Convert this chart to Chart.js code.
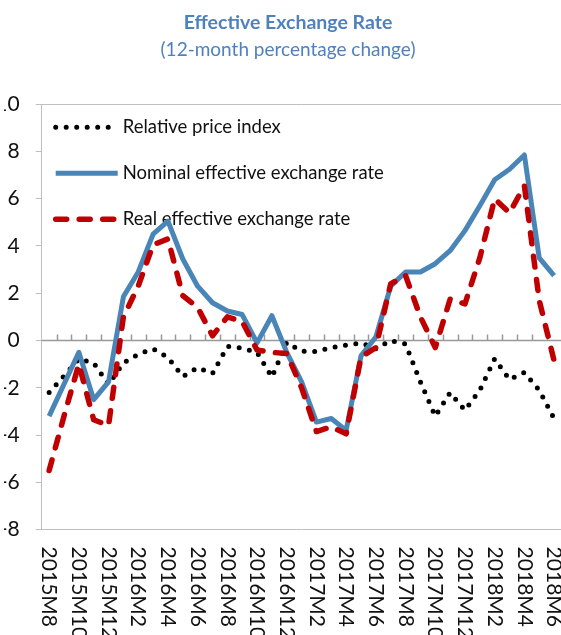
<!DOCTYPE html>
<html>
<head>
<meta charset="utf-8">
<script src="https://cdn.jsdelivr.net/npm/chart.js@4.4.1/dist/chart.umd.min.js"></script>
<style>
  html, body { margin: 0; padding: 0; background: #fff; overflow: hidden; }
  #wrap { position: absolute; left: -8px; top: 0; width: 580px; height: 635px; }
</style>
</head>
<body>
<div id="wrap"><canvas id="eerChart"></canvas></div>
<script>
// monthly categories
const months = ['2015M8', '2015M9', '2015M10', '2015M11', '2015M12',
    '2016M1', '2016M2', '2016M3', '2016M4', '2016M5', '2016M6', '2016M7', '2016M8', '2016M9', '2016M10', '2016M11', '2016M12',
    '2017M1', '2017M2', '2017M3', '2017M4', '2017M5', '2017M6', '2017M7', '2017M8', '2017M9', '2017M10', '2017M11', '2017M12',
    '2018M1', '2018M2', '2018M3', '2018M4', '2018M5', '2018M6'];

// labels shown under the axis
const tickMonths = ['2015M8', '2015M10', '2015M12', '2016M2', '2016M4', '2016M6', '2016M8', '2016M10', '2016M12',
    '2017M2', '2017M4', '2017M6', '2017M8', '2017M10', '2017M12', '2018M2', '2018M4', '2018M6'];

const relativePrice = [-2.2, -1.5, -0.78, -0.95, -1.85, -0.95, -0.58, -0.35, -0.72, -1.52, -1.15, -1.4, -0.25, -0.32, -0.5, -1.55, -0.08,
    -0.45, -0.47, -0.3, -0.2, -0.1, -0.35, 0.0, -0.15, -1.75, -3.2, -2.2, -2.95, -2.1, -0.77, -1.65, -1.35, -2.1, -3.3];

const nominalEER = [-3.2, -1.85, -0.5, -2.5, -1.75, 1.85, 2.9, 4.5, 5.05, 3.45, 2.3, 1.6, 1.25, 1.1, -0.1, 1.05, -0.5,
    -1.75, -3.45, -3.3, -3.8, -0.65, 0.15, 2.3, 2.9, 2.9, 3.25, 3.8, 4.65, 5.7, 6.8, 7.25, 7.85, 3.5, 2.75];

const realEER = [-5.5, -3.2, -1.0, -3.35, -3.6, 1.0, 2.3, 4.05, 4.3, 1.9, 1.4, 0.2, 1.0, 0.8, -0.4, -0.5, -0.55,
    -2.0, -3.85, -3.65, -3.95, -0.7, -0.3, 2.4, 2.75, 1.0, -0.3, 1.75, 1.55, 3.5, 6.0, 5.4, 6.55, 1.7, -0.85];

const yTicks = [-8, -6, -4, -2, 0, 2, 4, 6, 8, 10];

const textColor = '#111';
const axisGrey = '#bfbfbf';

// zero line with little tick marks between the months
const zeroAxis = {
    id: 'zeroAxis',
    beforeDatasetsDraw(chart) {
        const { ctx, chartArea, scales: { x, y } } = chart;
        const y0 = y.getPixelForValue(0);
        const half = (x.getPixelForValue(1) - x.getPixelForValue(0)) / 2;
        ctx.save();
        ctx.strokeStyle = '#999';
        ctx.lineWidth = 1.5;
        ctx.beginPath();
        ctx.moveTo(chartArea.left, y0);
        ctx.lineTo(chartArea.right, y0);
        for (let i = 1; i < months.length; i++) {
            const tx = Math.round(x.getPixelForValue(i) - half) + 0.5;
            ctx.moveTo(tx, y0);
            ctx.lineTo(tx, y0 - 6);
        }
        ctx.stroke();
        ctx.restore();
    }
};

// legend sitting in the top left of the plot
const insideLegend = {
    id: 'insideLegend',
    beforeDatasetsDraw(chart) {
        const { ctx, chartArea } = chart;
        ctx.save();
        chart.data.datasets.forEach((ds, i) => {
            const y = chartArea.top + 23 + i * 46;
            const x0 = chartArea.left + 14;
            ctx.beginPath();
            ctx.strokeStyle = ds.borderColor;
            ctx.lineWidth = ds.borderWidth;
            ctx.lineCap = ds.borderCapStyle || 'butt';
            ctx.setLineDash(ds.borderDash || []);
            ctx.moveTo(x0, y);
            ctx.lineTo(x0 + 62, y);
            ctx.stroke();
            ctx.setLineDash([]);
            ctx.fillStyle = textColor;
            ctx.font = '18.5px Lato';
            ctx.textAlign = 'left';
            ctx.textBaseline = 'middle';
            ctx.fillText(ds.label, x0 + 67, y);
        });
        ctx.restore();
    }
};

// month labels, turned to read downwards
const monthLabels = {
    id: 'monthLabels',
    afterDraw(chart) {
        const { ctx, chartArea, scales: { x } } = chart;
        ctx.save();
        ctx.font = '21px Lato';
        ctx.fillStyle = textColor;
        ctx.textAlign = 'left';
        ctx.textBaseline = 'middle';
        tickMonths.forEach(m => {
            ctx.save();
            ctx.translate(x.getPixelForValue(months.indexOf(m)), chartArea.bottom + 17);
            ctx.rotate(Math.PI / 2);
            ctx.fillText(m, 0, 0);
            ctx.restore();
        });
        ctx.restore();
    }
};

new Chart(document.querySelector('#eerChart'), {
    type: 'line',
    data: {
        labels: months,
        datasets: [{
            label: 'Relative price index',
            data: relativePrice,
            borderColor: '#000',
            borderWidth: 5,
            borderCapStyle: 'round',
            borderDash: [0, 10.5],
            order: 2
        }, {
            label: 'Nominal effective exchange rate',
            data: nominalEER,
            borderColor: '#4a85b8',
            borderWidth: 5,
            order: 1
        }, {
            label: 'Real effective exchange rate',
            data: realEER,
            borderColor: '#c00000',
            borderWidth: 5.5,
            borderCapStyle: 'round',
            borderDash: [11, 12.5],
            order: 0
        }]
    },
    options: {
        responsive: true,
        maintainAspectRatio: false,
        animation: false,
        layout: { padding: { left: 12, right: 0, top: 0, bottom: 105.4 } },
        elements: {
            point: { radius: 0, hoverRadius: 0 },
            line: { tension: 0, borderJoinStyle: 'round' }
        },
        plugins: {
            legend: { display: false },
            tooltip: { enabled: false },
            title: {
                display: true,
                text: 'Effective Exchange Rate',
                color: '#4f81bd',
                font: { family: 'Lato', size: 19.5, weight: 'bold' },
                padding: { top: 11, bottom: 3 }
            },
            subtitle: {
                display: true,
                text: '(12-month percentage change)',
                color: '#4f81bd',
                font: { family: 'Lato', size: 19 },
                padding: { top: 1.5, bottom: 42.5 }
            }
        },
        scales: {
            x: {
                offset: true,
                grid: { display: false, drawTicks: false },
                border: { display: true, color: axisGrey },
                ticks: { display: false }
            },
            y: {
                min: -8,
                max: 10,
                afterBuildTicks(scale) {
                    scale.ticks = yTicks.map(v => ({ value: v }));
                },
                // labels get cut at the left edge, as in the source picture
                afterFit(scale) {
                    scale.width = 37.7;
                },
                grid: {
                    color: c => c.tick && c.tick.value === 10 ? axisGrey : 'transparent',
                    tickColor: axisGrey,
                    tickLength: 6
                },
                border: { color: axisGrey },
                ticks: {
                    color: textColor,
                    padding: 16,
                    font: { family: 'Lato', size: 21 }
                }
            },
            // empty strip on the right so the plot stops at the page edge
            yRight: {
                position: 'right',
                grid: { display: false, drawTicks: false },
                border: { display: false },
                ticks: { display: false },
                afterFit(scale) {
                    scale.width = 10.5;
                }
            }
        }
    },
    plugins: [zeroAxis, insideLegend, monthLabels]
});
</script>
</body>
</html>
